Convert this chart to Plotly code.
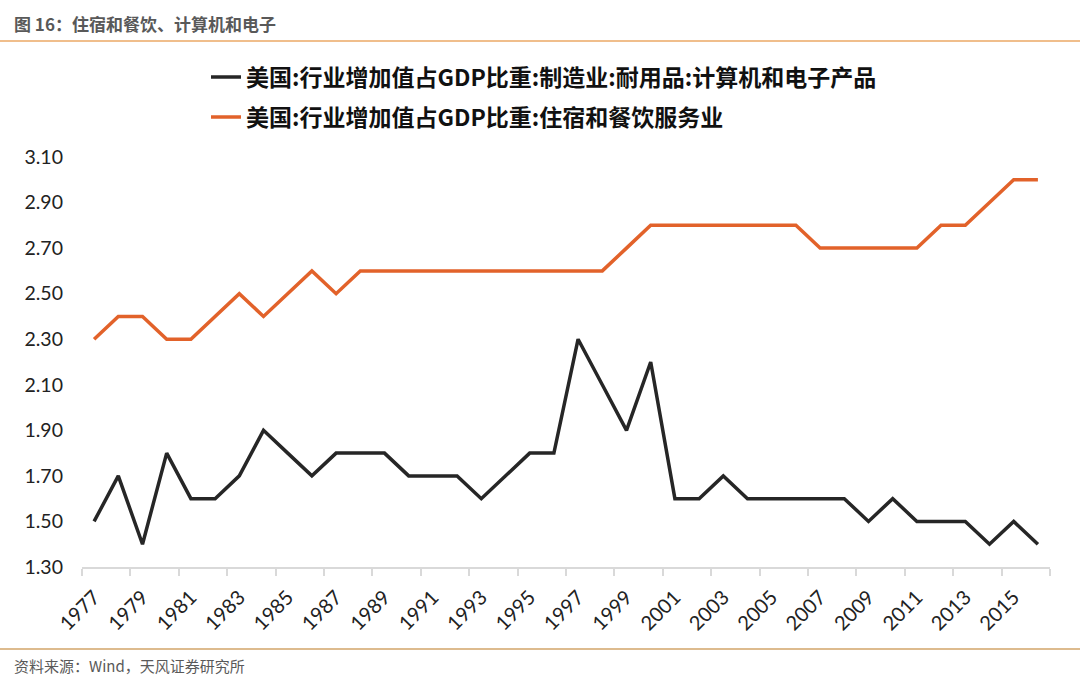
import plotly.graph_objects as go

years = list(range(1977, 2017))
computer_electronics = [1.5, 1.7, 1.4, 1.8, 1.6, 1.6, 1.7, 1.9, 1.8, 1.7,
                        1.8, 1.8, 1.8, 1.7, 1.7, 1.7, 1.6, 1.7, 1.8, 1.8,
                        2.3, 2.1, 1.9, 2.2, 1.6, 1.6, 1.7, 1.6, 1.6, 1.6,
                        1.6, 1.6, 1.5, 1.6, 1.5, 1.5, 1.5, 1.4, 1.5, 1.4]
accommodation_food = [2.3, 2.4, 2.4, 2.3, 2.3, 2.4, 2.5, 2.4, 2.5, 2.6,
                      2.5, 2.6, 2.6, 2.6, 2.6, 2.6, 2.6, 2.6, 2.6, 2.6,
                      2.6, 2.6, 2.7, 2.8, 2.8, 2.8, 2.8, 2.8, 2.8, 2.8,
                      2.7, 2.7, 2.7, 2.7, 2.7, 2.8, 2.8, 2.9, 3.0, 3.0]
tick_years = list(range(1977, 2016, 2))
tick_labels = [str(y) for y in tick_years]
name1 = "美国:行业增加值占GDP比重:制造业:耐用品:计算机和电子产品"
name2 = "美国:行业增加值占GDP比重:住宿和餐饮服务业"
title_text = "图 16：住宿和餐饮、计算机和电子"
source_text = "资料来源：Wind，天风证券研究所"

W, H = 1080, 687
L, R, T, B = 82, 30, 157, 120
PW, PH = W - L - R, H - T - B

def px_x(x):
    return (x - L) / PW

def px_y(y):
    return (H - B - y) / PH

CJK = "Noto Sans CJK SC"

fig = go.Figure()
fig.add_trace(go.Scatter(x=years, y=computer_electronics, mode="lines", name=name1,
                         line=dict(color="#262626", width=3.5), legend="legend"))
fig.add_trace(go.Scatter(x=years, y=accommodation_food, mode="lines", name=name2,
                         line=dict(color="#E2622A", width=3.5), legend="legend2"))

leg_common = dict(xanchor="left", yanchor="middle",
                  bgcolor="rgba(0,0,0,0)", borderwidth=0,
                  font=dict(family=CJK, size=23, color="#111111", weight="bold"))
fig.update_layout(
    width=W, height=H,
    margin=dict(l=L, r=R, t=T, b=B, autoexpand=False),
    paper_bgcolor="white", plot_bgcolor="white",
    showlegend=True,
    legend=dict(x=px_x(206), y=px_y(77), **leg_common),
    legend2=dict(x=px_x(206), y=px_y(117), **leg_common),
    xaxis=dict(range=[1976.5, 2016.5], tickmode="array", tickvals=tick_years,
               ticktext=tick_labels, tickangle=-45, ticks="",
               showgrid=False, zeroline=False, showline=True,
               linecolor="#D9D9D9", linewidth=1.5, ticklabelstandoff=9,
               tickfont=dict(family="Lato", size=20, color="#222222"),
               minor=dict(tick0=1976.5, dtick=2, ticks="outside", ticklen=7,
                          tickcolor="#D9D9D9", tickwidth=1.5, showgrid=False)),
    yaxis=dict(range=[1.3, 3.1], dtick=0.2, tick0=1.3, tickformat=".2f",
               showgrid=False, zeroline=False, showline=False, ticks="",
               ticklabelstandoff=18,
               tickfont=dict(family="Lato", size=19.5, color="#222222")),
)

# header and footer
fig.add_shape(type="line", xref="paper", yref="paper",
              x0=px_x(0), x1=px_x(W), y0=px_y(41), y1=px_y(41),
              line=dict(color="#F0BE8C", width=2))
fig.add_shape(type="line", xref="paper", yref="paper",
              x0=px_x(0), x1=px_x(W), y0=px_y(649), y1=px_y(649),
              line=dict(color="#D2A468", width=1.5))
fig.add_annotation(text=title_text, xref="paper", yref="paper",
                   x=px_x(12), y=px_y(24), xanchor="left", yanchor="middle",
                   showarrow=False,
                   font=dict(family=CJK, size=17, color="#595959", weight="bold"))
fig.add_annotation(text=source_text, xref="paper", yref="paper",
                   x=px_x(12), y=px_y(665), xanchor="left", yanchor="middle",
                   showarrow=False,
                   font=dict(family=CJK, size=15, color="#595959"))

fig.write_html("out.html", config={"displayModeBar": False},
               post_script="document.body.style.margin='0';document.body.style.overflow='hidden';")
